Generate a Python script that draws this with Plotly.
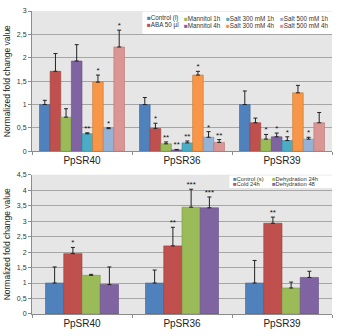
import plotly.graph_objects as go
from plotly.subplots import make_subplots

# ---------------- data ----------------
categories = ["PpSR40", "PpSR36", "PpSR39"]

top_names = ["Control (l)", "ABA 50 µl", "Mannitol 1h", "Mannitol 4h",
             "Salt 300 mM 1h", "Salt 300 mM 4h", "Salt 500 mM 1h", "Salt 500 mM 4h"]
control_l = [1.00, 1.00, 1.00]
aba_50 = [1.71, 0.49, 0.61]
mannitol_1h = [0.73, 0.16, 0.26]
mannitol_4h = [1.93, 0.03, 0.31]
salt300_1h = [0.375, 0.18, 0.23]
salt300_4h = [1.48, 1.63, 1.25]
salt500_1h = [0.485, 0.30, 0.26]
salt500_4h = [2.23, 0.19, 0.61]
top_values = [control_l, aba_50, mannitol_1h, mannitol_4h, salt300_1h, salt300_4h, salt500_1h, salt500_4h]
top_errors = [[0.09, 0.15, 0.29], [0.38, 0.11, 0.10], [0.18, 0.04, 0.10], [0.35, 0.01, 0.08],
              [0.02, 0.04, 0.08], [0.15, 0.08, 0.16], [0.02, 0.12, 0.04], [0.36, 0.06, 0.22]]
top_stars = [["", "", ""], ["", "*", ""], ["", "**", "*"], ["", "**", "*"],
             ["**", "**", "*"], ["*", "*", ""], ["*", "*", "*"], ["*", "**", ""]]

bot_names = ["Control (s)", "Cold 24h", "Dehydration 24h", "Dehydration 48"]
control_s = [1.00, 1.00, 1.00]
cold_24h = [1.95, 2.20, 2.93]
dehyd_24h = [1.25, 3.45, 0.84]
dehyd_48 = [0.95, 3.43, 1.18]
bot_values = [control_s, cold_24h, dehyd_24h, dehyd_48]
bot_errors = [[0.52, 0.42, 0.73], [0.20, 0.60, 0.20], [0.03, 0.58, 0.19], [0.57, 0.35, 0.20]]
bot_stars = [["", "", ""], ["*", "**", "**"], ["", "***", ""], ["", "***", ""]]

top_ticks = [0, 0.5, 1, 1.5, 2, 2.5, 3]
top_ticktext = ["0", "0,5", "1", "1,5", "2", "2,5", "3"]
bot_ticks = [0, 0.5, 1, 1.5, 2, 2.5, 3, 3.5, 4, 4.5]
bot_ticktext = ["0", "0,5", "1", "1,5", "2", "2,5", "3", "3,5", "4", "4,5"]

# ---------------- style ----------------
top_colors = ["#4F81BD", "#C0504D", "#9BBB59", "#8064A2", "#4BACC6", "#F79646", "#95B3D7", "#D99694"]
top_lines = ["#3A6597", "#983C3A", "#7A9544", "#634D80", "#368A9F", "#C87730", "#7090B8", "#B77472"]
bot_colors = ["#4F81BD", "#C0504D", "#9BBB59", "#8064A2"]
bot_lines = ["#3A6597", "#983C3A", "#7A9544", "#634D80"]
FONT = "Liberation Sans, Arial, sans-serif"
TOP_GAP = 0.15
BOT_GAP = 0.27

fig = make_subplots(rows=2, cols=1, vertical_spacing=0.077)
W, H = 339, 336
ML, MR, MT, MB = 28, 7, 7, 18
fig.update_layout(width=W, height=H, margin=dict(l=ML, r=MR, t=MT, b=MB),
                  paper_bgcolor="white", plot_bgcolor="#E6E6E6",
                  barmode="group", bargroupgap=0, showlegend=False,
                  font=dict(family=FONT, color="#222"))
xpos = list(range(len(categories)))


def add_group(names, values, errors, stars, colors, lines, gap, row):
    n = len(names)
    w = (1 - gap) / n
    for i in range(n):
        fig.add_trace(go.Bar(
            x=xpos, y=values[i], name=names[i], width=w,
            offset=-(1 - gap) / 2 + i * w,
            marker=dict(color=colors[i], line=dict(color=lines[i], width=0.6)),
            error_y=dict(type="data", array=errors[i], arrayminus=[0] * len(errors[i]),
                         symmetric=False, color="#222", thickness=1, width=2)),
            row=row, col=1)
        cx = [x - (1 - gap) / 2 + (i + 0.5) * w for x in xpos]
        cy = [v + e for v, e in zip(values[i], errors[i])]
        fig.add_trace(go.Scatter(
            x=cx, y=cy, mode="text", text=stars[i], textposition="top center",
            textfont=dict(size=8, color="#111", family=FONT), hoverinfo="skip"),
            row=row, col=1)


add_group(top_names, top_values, top_errors, top_stars, top_colors, top_lines, TOP_GAP, 1)
add_group(bot_names, bot_values, bot_errors, bot_stars, bot_colors, bot_lines, BOT_GAP, 2)

xcommon = dict(range=[-0.5, 2.5], tickvals=xpos, ticktext=categories, ticks="",
               showline=True, linecolor="#8C8C8C", linewidth=1, showgrid=False,
               tickfont=dict(size=10, color="#222"), zeroline=False,
               minor=dict(tickvals=[-0.5, 0.5, 1.5, 2.5], ticks="outside", ticklen=3,
                          tickcolor="#8C8C8C", showgrid=False))
fig.update_xaxes(**xcommon, row=1, col=1)
fig.update_xaxes(**xcommon, row=2, col=1)
fig.layout.xaxis.domain = [0, 1]
fig.layout.xaxis2.domain = [0, 1]

ycommon = dict(showline=True, linecolor="#8C8C8C", linewidth=1, ticks="outside", ticklen=3,
               tickcolor="#8C8C8C", showgrid=True, gridcolor="#A6A6A6", gridwidth=0.7,
               zeroline=False, tickfont=dict(size=7, color="#333"),
               title=dict(text="Normalized fold change value", font=dict(size=8.5, color="#222"),
                          standoff=4))
fig.update_yaxes(**ycommon, range=[0, 3], tickvals=top_ticks, ticktext=top_ticktext, row=1, col=1)
fig.update_yaxes(**ycommon, range=[0, 4.5], tickvals=bot_ticks, ticktext=bot_ticktext, row=2, col=1)

PH = H - MT - MB
top_dom = [(H - MB - 151) / PH, 1.0]
bot_dom = [0.0, (H - MB - 175) / PH]
fig.layout.yaxis.domain = top_dom
fig.layout.yaxis2.domain = bot_dom

# ---------------- legend boxes (drawn manually, real text) ----------------
fig.add_shape(type="rect", xref="x domain", yref="y domain", x0=0.368, x1=1.0, y0=0.835, y1=0.995,
              fillcolor="white", line=dict(width=0), layer="below")
fig.add_shape(type="rect", xref="x2 domain", yref="y2 domain", x0=0.658, x1=1.0, y0=0.905, y1=0.995,
              fillcolor="white", line=dict(width=0), layer="below")


def px_to_paper(px, py):
    return (px - ML) / (W - ML - MR), (H - MB - py) / PH


top_cols_px = [143, 180, 223, 277]
top_rows_px = [14.5, 21.5]
top_order = [[0, 2, 4, 6], [1, 3, 5, 7]]
for r, idxs in enumerate(top_order):
    for c, idx in enumerate(idxs):
        ax, ay = px_to_paper(top_cols_px[c], top_rows_px[r])
        fig.add_annotation(xref="paper", yref="paper", x=ax, y=ay, xanchor="left", yanchor="middle",
                           showarrow=False,
                           text=f"<span style='color:{top_colors[idx]}'>■</span>{top_names[idx]}",
                           font=dict(size=6.3, color="#333", family=FONT))

bot_cols_px = [230, 269]
bot_rows_px = [179, 184.5]
bot_order = [[0, 2], [1, 3]]
for r, idxs in enumerate(bot_order):
    for c, idx in enumerate(idxs):
        ax, ay = px_to_paper(bot_cols_px[c], bot_rows_px[r])
        fig.add_annotation(xref="paper", yref="paper", x=ax, y=ay, xanchor="left", yanchor="middle",
                           showarrow=False,
                           text=f"<span style='color:{bot_colors[idx]}'>■</span>{bot_names[idx]}",
                           font=dict(size=5.8, color="#333", family=FONT))

fig.write_html("out.html")
